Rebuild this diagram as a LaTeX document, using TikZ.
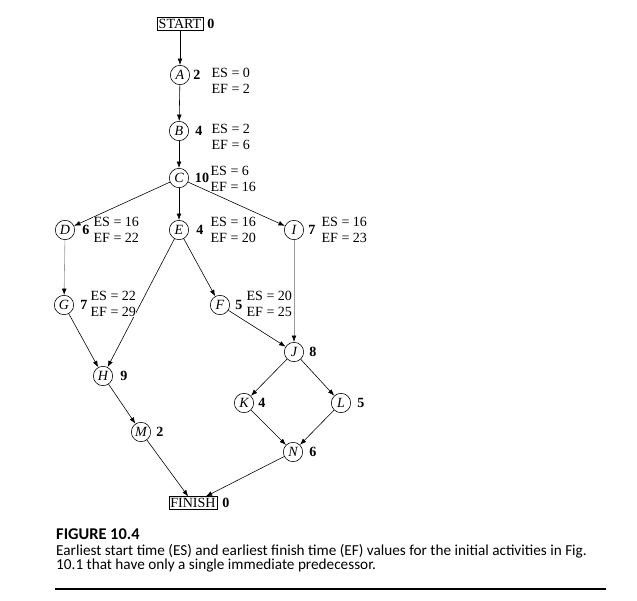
\documentclass[tikz,border=0pt]{standalone}
\usepackage{fontspec}
\setmainfont{Liberation Serif}
\newfontfamily\capfont{Carlito}
\usetikzlibrary{positioning, calc, arrows.meta}

\begin{document}
\begin{tikzpicture}[x = 0.03cm, y = -0.03cm]
\useasboundingbox (0, 0) rectangle (637, 601);
\begin{scope}[
	font=\fontsize{12}{13.5}\selectfont,
	act/.style={draw, circle, line width=0.5pt, minimum size=16.5pt, inner sep=0pt, font=\fontsize{12}{13.5}\selectfont\itshape},
	term/.style={draw, line width=0.5pt, inner sep=1.3pt},
	dur/.style={inner sep=0pt, font=\fontsize{12}{13.5}\selectfont\bfseries},
	esef/.style={align=left, anchor=west, inner sep=0.3pt, fill=white},
	arr/.style={line width=0.5pt, -{Latex[length=5.5pt, width=4pt, color=black]}},
	grayarr/.style={arr, draw=black!40}
]
\node[term] (start) at (180, 24) {START};
\node[term] (finish) at (193, 503) {FINISH};
\foreach \n/\x/\y in {A/180/75, B/179/131, C/179/178, D/65/230, E/179/230, I/294/230, G/64/305, F/220/305, J/294/352, H/103/376, M/141/432, K/244/403, L/341/403, N/293/452} {
	\node[act] (\n) at (\x, \y) {\n};
}
\foreach \a/\b in {start/A, A/B, B/C, C/D, C/E, C/I, E/H, E/F, G/H, F/J, H/M, J/K, J/L, K/N, L/N, M/finish, N/finish} {
	\draw[arr] (\a) -- (\b);
}
\draw[grayarr] (D) -- (G);
\draw[grayarr] (I) -- (J);
\foreach \n/\x/\y/\d in {start/211/24/0, A/197/75/2, B/199/131/4, C/202/178/10, D/86/230/6, E/200/230/4, I/312/230/7, G/84/305/7, F/239/305/5, J/313/352/8, H/124/376/9, K/262/403/4, L/361/403/5, M/160/432/2, N/313/452/6, finish/226/503/0} {
	\node[dur] (d-\n) at (\x, \y) {\d};
}
\foreach \n/\x/\y/\es/\ef in {A/211/81/0/2, B/211/137/2/6, C/210/179/6/16, D/93/230/16/22, E/210/230/16/20, I/321/230/16/23, G/90/304/22/29, F/246/304/20/25} {
	\node[esef] (t-\n) at (\x, \y) {ES = \es\\EF = \ef};
}
\node[anchor=base west, inner sep=0pt, font=\capfont\fontsize{14}{16}\selectfont\bfseries] (fig-title) at (56, 540) {FIGURE 10.4};
\node[anchor=base west, align=left, inner sep=0pt, font=\capfont\fontsize{13}{12.3}\selectfont] (fig-text) at (56, 570) {Earliest start time (ES) and earliest finish time (EF) values for the initial activities in Fig.\\10.1 that have only a single immediate predecessor.};
\coordinate (rule-l) at (55, 589);
\coordinate (rule-r) at (606, 589);
\draw[line width=2.2pt] (rule-l) -- (rule-r);
\end{scope}
\end{tikzpicture}
\end{document}
